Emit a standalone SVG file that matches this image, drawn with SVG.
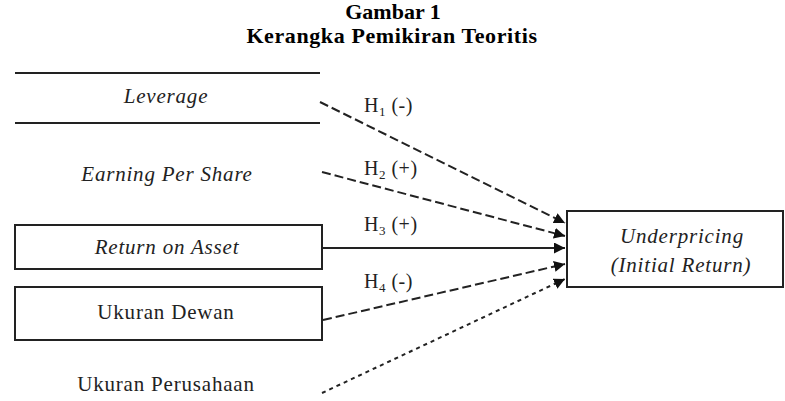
<svg xmlns="http://www.w3.org/2000/svg" width="785" height="401" viewBox="0 0 785 401">
<defs>
<style>
.title{font-family:"Liberation Serif","Times New Roman",serif;font-weight:bold;font-size:22px;fill:#000;text-anchor:middle}
.node{font-family:"Liberation Serif","Times New Roman",serif;font-size:21px;letter-spacing:0.8px;fill:#222;text-anchor:middle}
.it{font-style:italic}
.box{fill:#fff;stroke:#222;stroke-width:2}
.rule{stroke:#222;stroke-width:2}
.lab{font-family:"Liberation Serif","Times New Roman",serif;font-size:20px;letter-spacing:0.5px;fill:#222}
.sub{font-size:13px}
.c{fill:none;stroke:#222;stroke-width:2}
.dash{stroke-dasharray:9 4}
.dot{stroke-dasharray:4 4}
</style>
<marker id="ah" viewBox="0 0 10 10" refX="10" refY="5" markerWidth="5.5" markerHeight="5.5" orient="auto" markerUnits="strokeWidth">
<path d="M0,0 L10,5 L0,10 z" fill="#111"/>
</marker>
</defs>
<rect width="785" height="401" fill="#fff"/>
<text class="title" x="393" y="19">Gambar 1</text>
<text class="title" x="392" y="43" letter-spacing="0.6">Kerangka Pemikiran Teoritis</text>

<g id="leverage">
<line class="rule" x1="15" y1="73" x2="320" y2="73"/>
<line class="rule" x1="15" y1="123" x2="320" y2="123"/>
<text class="node it" x="166" y="103">Leverage</text>
</g>
<g id="eps">
<text class="node it" x="167" y="181">Earning Per Share</text>
</g>
<g id="roa">
<rect class="box" x="15" y="225" width="307" height="44"/>
<text class="node it" x="167" y="254">Return on Asset</text>
</g>
<g id="ukuran-dewan">
<rect class="box" x="15" y="287" width="307" height="53"/>
<text class="node" x="166" y="319">Ukuran Dewan</text>
</g>
<g id="ukuran-perusahaan">
<text class="node" x="166" y="391">Ukuran Perusahaan</text>
</g>
<g id="underpricing">
<rect class="box" x="567" y="211" width="216" height="76"/>
<text class="node it" x="682" y="243">Underpricing</text>
<text class="node it" x="681" y="272">(Initial Return)</text>
</g>

<g id="connectors">
<line class="c dash" x1="320" y1="102" x2="565" y2="223" marker-end="url(#ah)"/>
<line class="c dash" x1="322" y1="172" x2="565" y2="236" marker-end="url(#ah)"/>
<line class="c" x1="322" y1="248" x2="565" y2="248" marker-end="url(#ah)"/>
<line class="c dash" x1="323" y1="320" x2="565" y2="264" marker-end="url(#ah)"/>
<line class="c dot" x1="322" y1="393" x2="565" y2="279" marker-end="url(#ah)"/>
<text class="lab" x="364" y="112">H<tspan class="sub" dy="4">1</tspan><tspan dy="-4"> (-)</tspan></text>
<text class="lab" x="364" y="175">H<tspan class="sub" dy="4">2</tspan><tspan dy="-4"> (+)</tspan></text>
<text class="lab" x="364" y="231">H<tspan class="sub" dy="4">3</tspan><tspan dy="-4"> (+)</tspan></text>
<text class="lab" x="364" y="288">H<tspan class="sub" dy="4">4</tspan><tspan dy="-4"> (-)</tspan></text>
</g>
</svg>
